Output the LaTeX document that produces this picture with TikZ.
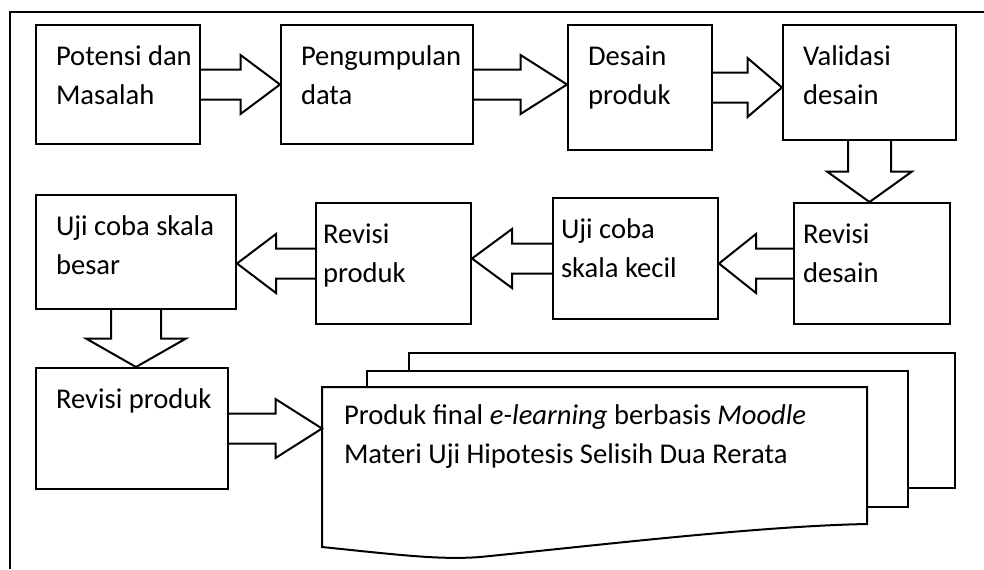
\documentclass[tikz,border=0pt]{standalone}
\usepackage{fontspec}
\setmainfont{Carlito}
\usetikzlibrary{calc}

\newcommand{\boxfont}{\fontsize{14.3pt}{19.5pt}\selectfont
    \spaceskip=\fontdimen2\font\relax\hyphenpenalty=10000\relax}

\tikzset{
    stepbox/.style={draw, line width=1pt, anchor=north west, inner xsep=10pt, inner ysep=0pt,
        align=flush left, text height=20pt, font=\boxfont},
    blockline/.style={line width=1pt, line join=miter},
}

% block arrow, shaft from #1, tip on the side of #2
\newcommand{\hblock}[2]{%
    \draw[blockline] let \p1=(#1), \p2=(#2 |- #1), \p3=($(\p1)!.5!(\p2)$) in
        (\x1,\y1+7.5pt) -- (\x3,\y1+7.5pt) -- (\x3,\y1+14.75pt) -- (\x2,\y2)
        -- (\x3,\y1-14.75pt) -- (\x3,\y1-7.5pt) -- (\x1,\y1-7.5pt);}
\newcommand{\vblock}[4]{%
    \draw[blockline] let \p1=(#1), \p2=(#1 |- #2), \p3=($(\p1)!.5!(\p2)$) in
        (\x1+#3,\y1) -- (\x1+#3,\y3) -- (\x1+#4,\y3) -- (\x2,\y2)
        -- (\x1-#4,\y3) -- (\x1-#3,\y3) -- (\x1-#3,\y1);}

\begin{document}
\begin{tikzpicture}[x=0.5pt, y=-0.5pt]

            \useasboundingbox (0,0) rectangle (984,569);

            % the frame
            \draw[blockline] (984,12) -- (10,12) -- (10,569);

            % the stack of documents
            \draw[blockline, fill=white] (409,353) rectangle (955,488);
            \draw[blockline, fill=white] (367,371) rectangle (908,507);
            \draw[blockline, fill=white] (322,387) -- (867,387) -- (867,524)
                .. controls (760,526) and (600,545) .. (480,557)
                .. controls (440,560) and (400,555) .. (322,547) -- cycle;

            % the steps
            \node[stepbox, text width=62pt, text depth=39.5pt] (b1) at (35,24) {Potensi~dan\\Masalah};
            \node[stepbox, text width=76pt, text depth=39.5pt] (b2) at (280,24) {Pengumpulan\\data};
            \node[stepbox, text width=52pt, text depth=42.5pt] (b3) at (567,24) {Desain\\produk};
            \node[stepbox, text width=66.5pt, text depth=37.5pt] (b4) at (782,24) {Validasi\\desain};
            \node[stepbox, inner xsep=4.5pt, text width=69pt, text depth=40.5pt] (b5) at (793,202) {Revisi\\desain};
            \node[stepbox, inner xsep=4pt, text width=74.5pt, text depth=40.5pt] (b6) at (552,197) {Uji~coba\\skala~kecil};
            \node[stepbox, inner xsep=3.5pt, text width=70.5pt, text depth=40.5pt] (b7) at (315,202) {Revisi\\produk};
            \node[stepbox, text width=80pt, text depth=37pt] (b8) at (35,194) {Uji~coba~skala\\besar};
            \node[stepbox, text width=76pt, text depth=40.5pt] (b9) at (35,367) {Revisi~produk};
            \node[stepbox, draw=none, inner xsep=10.5pt, text width=251.5pt, text height=18pt, text depth=50.5pt]
                (prod) at (322,387) {Produk final \textit{e-learning} berbasis \textit{Moodle}\\Materi Uji Hipotesis Selisih Dua Rerata};

            % the arrows
            \hblock{b1.east}{b2.west}
            \hblock{b2.east}{b3.west}
            \hblock{b3.east}{b4.west}
            \vblock{b4.south}{b5.north}{10.75pt}{21.25pt}
            \hblock{b5.west}{b6.east}
            \hblock{b6.west}{b7.east}
            \hblock{b7.west}{b8.east}
            \vblock{b8.south}{b9.north}{12.5pt}{25pt}
            \hblock{b9.east}{prod.west}

\end{tikzpicture}
\end{document}
